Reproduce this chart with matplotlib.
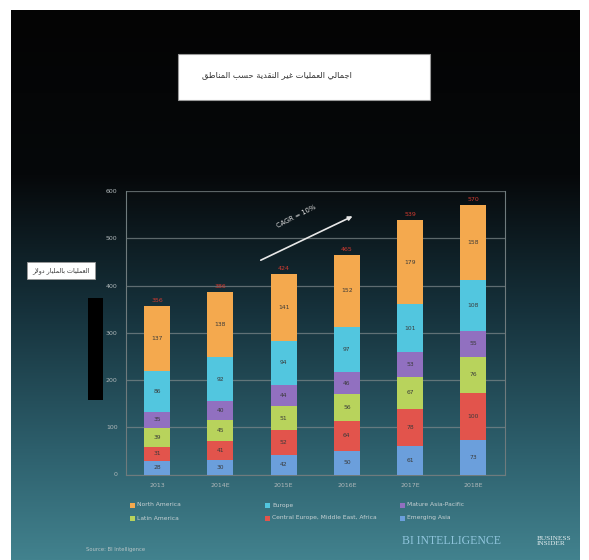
import numpy as np
import matplotlib
matplotlib.use("Agg")
import matplotlib.pyplot as plt
from matplotlib.patches import Rectangle

years = ["2013", "2014E", "2015E", "2016E", "2017E", "2018E"]
emerging_asia = [28, 30, 42, 50, 61, 73]
cemea = [31, 41, 52, 64, 78, 100]
latin_america = [39, 45, 51, 56, 67, 76]
mature_apac = [35, 40, 44, 46, 53, 55]
europe = [86, 92, 94, 97, 101, 108]
north_america = [137, 138, 141, 152, 179, 158]

series = [
    ("Emerging Asia", emerging_asia, "#6b9fdc"),
    ("Central Europe, Middle East, Africa", cemea, "#e2544c"),
    ("Latin America", latin_america, "#b8d35c"),
    ("Mature Asia-Pacific", mature_apac, "#9170c0"),
    ("Europe", europe, "#52c6df"),
    ("North America", north_america, "#f4a94e"),
]

title_ar = "اجمالي العمليات غير النقدية حسب المناطق"
ylabel_ar = "العمليات بالمليار دولار"

# contextual forms: isolated, final, initial, medial
FORMS = {
    "ا": ("\uFE8D", "\uFE8E", None, None),
    "ب": ("\uFE8F", "\uFE90", "\uFE91", "\uFE92"),
    "ة": ("\uFE93", "\uFE94", None, None),
    "ت": ("\uFE95", "\uFE96", "\uFE97", "\uFE98"),
    "ج": ("\uFE9D", "\uFE9E", "\uFE9F", "\uFEA0"),
    "ح": ("\uFEA1", "\uFEA2", "\uFEA3", "\uFEA4"),
    "د": ("\uFEA9", "\uFEAA", None, None),
    "ر": ("\uFEAD", "\uFEAE", None, None),
    "س": ("\uFEB1", "\uFEB2", "\uFEB3", "\uFEB4"),
    "ط": ("\uFEC1", "\uFEC2", "\uFEC3", "\uFEC4"),
    "ع": ("\uFEC9", "\uFECA", "\uFECB", "\uFECC"),
    "غ": ("\uFECD", "\uFECE", "\uFECF", "\uFED0"),
    "ق": ("\uFED5", "\uFED6", "\uFED7", "\uFED8"),
    "ل": ("\uFEDD", "\uFEDE", "\uFEDF", "\uFEE0"),
    "م": ("\uFEE1", "\uFEE2", "\uFEE3", "\uFEE4"),
    "ن": ("\uFEE5", "\uFEE6", "\uFEE7", "\uFEE8"),
    "و": ("\uFEED", "\uFEEE", None, None),
    "ي": ("\uFEF1", "\uFEF2", "\uFEF3", "\uFEF4"),
}


def joins_next(c):
    return c in FORMS and FORMS[c][2] is not None


def shape(text):
    res = []
    i = 0
    while i < len(text):
        c = text[i]
        prev = text[i - 1] if i > 0 else ""
        if c == "ل" and i + 1 < len(text) and text[i + 1] == "ا":
            res.append("\uFEFC" if joins_next(prev) else "\uFEFB")
            i += 2
            continue
        if c not in FORMS:
            res.append(c)
            i += 1
            continue
        nxt = text[i + 1] if i + 1 < len(text) else ""
        f = FORMS[c]
        p = joins_next(prev)
        n = nxt in FORMS and f[2] is not None
        if p and n:
            res.append(f[3])
        elif p:
            res.append(f[1])
        elif n:
            res.append(f[2])
        else:
            res.append(f[0])
        i += 1
    return "".join(reversed(res))


W, H = 589, 560
fig = plt.figure(figsize=(W / 100, H / 100), dpi=100, facecolor="white")

# gradient background
bg = fig.add_axes([11 / W, 0, (580 - 11) / W, (H - 10) / H])
bg.set_axis_off()
t = np.linspace(0, 1, 256)
stops_t = [0.0, 0.30, 0.55, 0.80, 1.0]
stops_c = np.array([[4, 4, 4], [6, 8, 10], [22, 50, 60], [45, 95, 108], [66, 130, 142]]) / 255
grad = np.stack([np.interp(t, stops_t, stops_c[:, k]) for k in range(3)], axis=1)
bg.imshow(grad[:, None, :], aspect="auto", extent=[0, 1, 1, 0])
bg.set_xlim(0, 1)
bg.set_ylim(1, 0)

ax = fig.add_axes([126 / W, 85.5 / H, (505 - 126) / W, (474.5 - 191) / H])
ax.patch.set_alpha(0)
x = np.arange(len(years))
bottom = np.zeros(len(years))
for name, vals, color in series:
    vals = np.array(vals)
    ax.bar(x, vals, 0.41, bottom=bottom, color=color, zorder=3)
    for xi, b, v in zip(x, bottom, vals):
        ax.text(xi, b + v / 2, str(v), ha="center", va="center", fontsize=4.3,
                color="#3a3a3a", zorder=4)
    bottom += vals

for xi, tot in zip(x, bottom):
    ax.text(xi, tot + 6, str(int(tot)), ha="center", va="bottom", fontsize=4.5,
            color="#d03a30", zorder=4)

ax.set_xlim(-0.49, 5.5)
ax.set_ylim(0, 600)
ax.set_yticks(range(0, 601, 100))
ax.set_xticks(x)
ax.set_xticklabels(years)
ax.tick_params(colors="#b0b8ba", labelsize=4.5, length=0, pad=6)
ax.grid(axis="y", color="#7f8a8c", linewidth=0.9, alpha=0.7, zorder=1)
for s in ["top"]:
    ax.spines[s].set_visible(False)
for s in ["left", "right", "bottom"]:
    ax.spines[s].set_color("#6f7b7d")
    ax.spines[s].set_linewidth(0.8)

# CAGR arrow
ax.annotate("", xy=(3.13, 549), xytext=(1.6, 451),
            arrowprops=dict(arrowstyle="-|>", color="#e8e8e8", lw=1.2,
                            mutation_scale=6), zorder=5)
ax.text(2.2, 546, "CAGR = 10%", rotation=27, ha="center", va="center",
        fontsize=4.8, color="#e0e0e0")

# title box
fig.patches.append(Rectangle((178 / W, 1 - 100 / H), (430 - 178) / W, 46 / H,
                             transform=fig.transFigure, facecolor="white",
                             edgecolor="#999999", linewidth=0.8))
fig.text(202 / W, 1 - 75 / H, shape(title_ar), ha="left", va="center",
         fontsize=6, color="#333333", family="DejaVu Sans")

# y label box and black bar
fig.patches.append(Rectangle((27 / W, 1 - 279 / H), 68 / W, 17 / H,
                             transform=fig.transFigure, facecolor="white",
                             edgecolor="#999999", linewidth=0.6))
fig.text(61 / W, 1 - 270.5 / H, shape(ylabel_ar), ha="center", va="center",
         fontsize=4.6, color="#333333", family="DejaVu Sans")
fig.patches.append(Rectangle((88 / W, 1 - 400 / H), 15 / W, 102 / H,
                             transform=fig.transFigure, facecolor="black",
                             edgecolor="none"))

# legend, three columns
legend_pos = [
    ("North America", 130, 505), ("Latin America", 130, 518),
    ("Europe", 265, 505), ("Central Europe, Middle East, Africa", 265, 518),
    ("Mature Asia-Pacific", 400, 505), ("Emerging Asia", 400, 518),
]
colors = {name: c for name, _, c in series}
for name, px, py in legend_pos:
    fig.patches.append(Rectangle((px / W, 1 - (py + 2.5) / H), 5 / W, 5 / H,
                                 transform=fig.transFigure,
                                 facecolor=colors[name], edgecolor="none"))
    fig.text((px + 7) / W, 1 - py / H, name, ha="left", va="center",
             fontsize=4.3, color="#c8d2d4")

fig.text(86 / W, 1 - 550 / H, "Source: BI Intelligence", ha="left", va="center",
         fontsize=3.8, color="#b8c4c6")
fig.text(402 / W, 1 - 541 / H, "BI INTELLIGENCE", ha="left", va="center",
         fontsize=8.5, color="#8fc4dc", family="Liberation Serif")
fig.text(537 / W, 1 - 541 / H, "BUSINESS\nINSIDER", ha="left", va="center",
         fontsize=5.2, color="#e4eef0", family="Liberation Serif", linespacing=1.1)

fig.savefig("out.png", dpi=100, facecolor="white")
